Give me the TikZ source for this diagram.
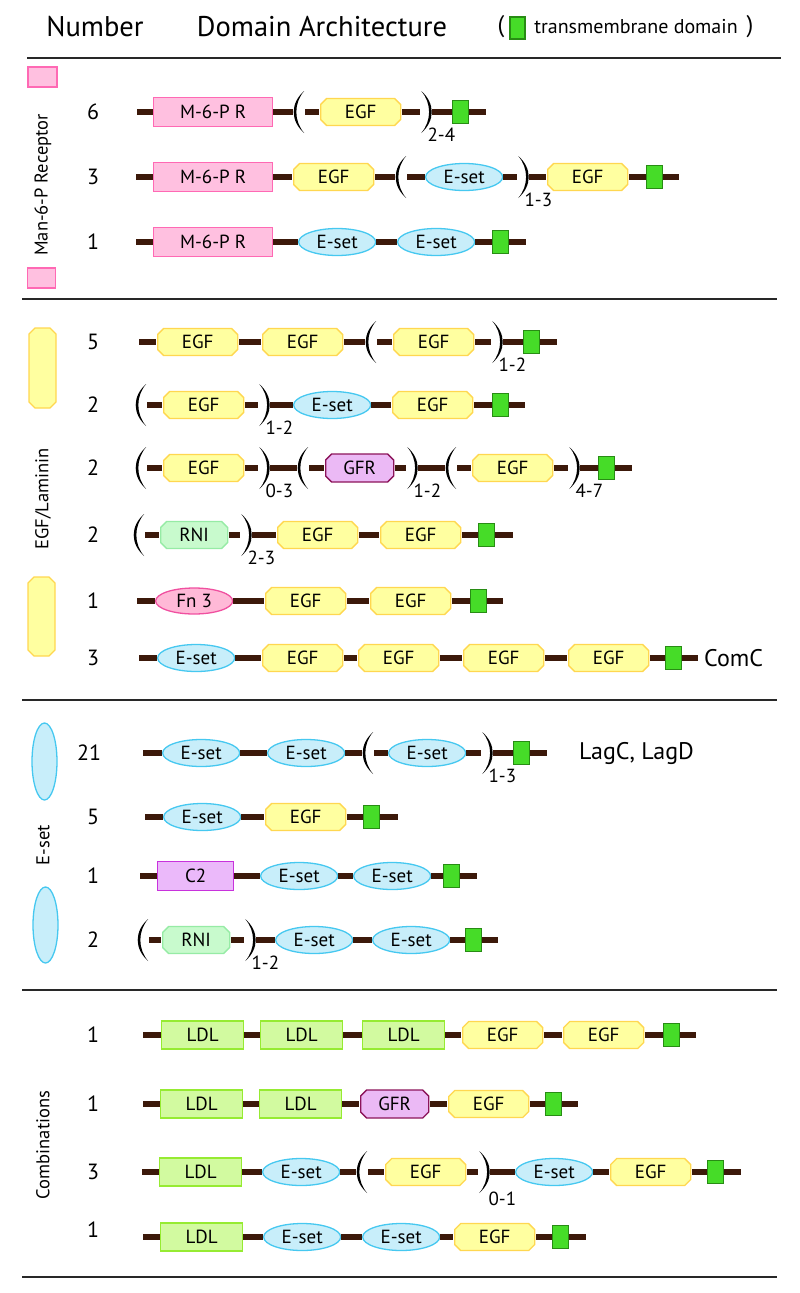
\documentclass[tikz,border=0pt]{standalone}
\usepackage{fontspec}
\setmainfont{PT Sans}
\usetikzlibrary{shapes.geometric}
\definecolor{linkc}{RGB}{60,25,10}
\definecolor{sepc}{RGB}{40,40,40}
\definecolor{mprF}{RGB}{255,192,224}\definecolor{mprD}{RGB}{255,105,180}
\definecolor{egfF}{RGB}{255,255,160}\definecolor{egfD}{RGB}{255,215,80}
\definecolor{esetF}{RGB}{200,238,250}\definecolor{esetD}{RGB}{70,200,240}
\definecolor{gfrF}{RGB}{235,185,245}\definecolor{gfrD}{RGB}{140,20,90}
\definecolor{ctwoF}{RGB}{235,185,250}\definecolor{ctwoD}{RGB}{200,50,220}
\definecolor{rniF}{RGB}{200,250,205}\definecolor{rniD}{RGB}{150,235,165}
\definecolor{fnF}{RGB}{255,185,215}\definecolor{fnD}{RGB}{240,80,160}
\definecolor{ldlF}{RGB}{210,250,160}\definecolor{ldlD}{RGB}{150,235,50}
\definecolor{tmF}{RGB}{70,220,40}\definecolor{tmD}{RGB}{40,140,20}
\newcommand{\lab}{\fontsize{19}{22}\selectfont}
\begin{document}
\begin{tikzpicture}[x=1pt,y=-1pt,
 link/.style={line width=5.5pt, linkc},
 sepline/.style={line width=1.4pt, sepc},
 dom/.style={line width=1.3pt, inner sep=0pt, font=\lab, anchor=west},
 octo/.style 2 args={dom, rectangle, path picture={\filldraw[draw=#1,fill=#2,line width=1.3pt]
   ([xshift=7pt,yshift=-1pt]path picture bounding box.north west) -- ([xshift=-7pt,yshift=-1pt]path picture bounding box.north east)
   -- ([xshift=-1pt,yshift=-7pt]path picture bounding box.north east) -- ([xshift=-1pt,yshift=7pt]path picture bounding box.south east)
   -- ([xshift=-7pt,yshift=1pt]path picture bounding box.south east) -- ([xshift=7pt,yshift=1pt]path picture bounding box.south west)
   -- ([xshift=1pt,yshift=7pt]path picture bounding box.south west) -- ([xshift=1pt,yshift=-7pt]path picture bounding box.north west) -- cycle;}},
 mpr/.style={dom, rectangle, draw=mprD, fill=mprF, minimum width=119pt, minimum height=29pt},
 egf/.style={octo={egfD}{egfF}, minimum width=82pt, minimum height=29pt},
 gfr/.style={octo={gfrD}{gfrF}, minimum width=70pt, minimum height=30pt},
 rni/.style={octo={rniD}{rniF}, minimum width=69pt, minimum height=29pt},
 eset/.style={dom, ellipse, draw=esetD, fill=esetF, minimum width=77pt, minimum height=27pt},
 fn/.style={dom, ellipse, draw=fnD, fill=fnF, minimum width=77pt, minimum height=26pt},
 ctwo/.style={dom, rectangle, draw=ctwoD, fill=ctwoF, minimum width=76pt, minimum height=29pt},
 ldl/.style={dom, rectangle, draw=ldlD, fill=ldlF, minimum width=82pt, minimum height=28pt},
 tm/.style={dom, rectangle, line width=1.2pt, draw=tmD, fill=tmF, minimum width=16pt, minimum height=23pt},
 lpar/.style={anchor=west, minimum width=12pt, minimum height=42pt, inner sep=0pt,
   path picture={\fill[black] ([xshift=-1pt]path picture bounding box.north east)
     .. controls ([xshift=-3pt,yshift=-12pt]path picture bounding box.north west) and ([xshift=-3pt,yshift=12pt]path picture bounding box.south west) .. ([xshift=-1pt]path picture bounding box.south east)
     .. controls ([xshift=0.5pt,yshift=12pt]path picture bounding box.south west) and ([xshift=0.5pt,yshift=-12pt]path picture bounding box.north west) .. cycle;}},
 rpar/.style={anchor=west, minimum width=12pt, minimum height=42pt, inner sep=0pt,
   path picture={\fill[black] ([xshift=1pt]path picture bounding box.north west)
     .. controls ([xshift=3pt,yshift=-12pt]path picture bounding box.north east) and ([xshift=3pt,yshift=12pt]path picture bounding box.south east) .. ([xshift=1pt]path picture bounding box.south west)
     .. controls ([xshift=-0.5pt,yshift=12pt]path picture bounding box.south east) and ([xshift=-0.5pt,yshift=-12pt]path picture bounding box.north east) .. cycle;}},
 sub/.style={font=\lab, anchor=west, inner sep=0pt},
 num/.style={font=\fontsize{22}{24}\selectfont, inner sep=0pt},
 vlab/.style={font=\fontsize{18.5}{20}\selectfont, rotate=90, inner sep=0pt},
 note/.style={font=\fontsize{24}{26}\selectfont, anchor=west, inner sep=0pt}
]
\useasboundingbox (0,0) rectangle (800,1293);
% header
\node[font=\fontsize{28.5}{30}\selectfont] (hnum) at (95,27) {Number};
\node[font=\fontsize{28.5}{30}\selectfont] (hdom) at (322,27) {Domain Architecture};
\node[font=\fontsize{24}{26}\selectfont, inner sep=0pt] (hlp) at (501,27) {(};
\node[tm, anchor=center, minimum width=15pt, minimum height=22pt] (htm) at (517.5,28) {};
\node[font=\fontsize{20}{22}\selectfont, inner sep=0pt] (htxt) at (636,27) {transmembrane domain};
\node[font=\fontsize{24}{26}\selectfont, inner sep=0pt] (hrp) at (750,27) {)};
\draw[sepline] (27,58) -- (781,58);
\draw[sepline] (22,299) -- (777,299);
\draw[sepline] (22,700) -- (777,700);
\draw[sepline] (22,990) -- (777,990);
\draw[sepline] (22,1277) -- (777,1277);

% ===== Section 1: Man-6-P Receptor =====
\node[dom, anchor=center, rectangle, draw=mprD, fill=mprF, minimum width=29pt, minimum height=20pt] (s1a) at (42.5,77) {};
\node[dom, anchor=center, rectangle, draw=mprD, fill=mprF, minimum width=28pt, minimum height=20pt] (s1b) at (41.5,278) {};
\node[vlab] (v1) at (43,185) {Man-6-P Receptor};
\node[num] (n11) at (93,112) {6};
\node[num] (n12) at (93,177) {3};
\node[num] (n13) at (93,242) {1};
% row 6
\coordinate (a0) at (137,112);
\node[mpr] (a1) at (153,112) {M-6-P R};
\node[lpar] (a2) at (293,112) {};
\node[egf] (a3) at (319,112) {EGF};
\node[rpar] (a4) at (420,112) {};
\node[sub] (a4s) at ([xshift=-5pt,yshift=-23pt]a4.east) {2-4};
\node[tm] (a5) at (452,112) {};
\coordinate (a6) at (486,112);
\draw[link] (a0) -- (a1.west) (a1.east) -- (a2.west) (a2.east) -- (a3.west) (a3.east) -- (a4.west) (a4.east) -- (a5.west) (a5.east) -- (a6);
% row 3
\coordinate (b0) at (136,177);
\node[mpr] (b1) at (153,177) {M-6-P R};
\node[egf] (b2) at (292,177) {EGF};
\node[lpar] (b3) at (395,177) {};
\node[eset] (b4) at (425,177) {E-set};
\node[rpar] (b5) at (517,177) {};
\node[sub] (b5s) at ([xshift=-5pt,yshift=-23pt]b5.east) {1-3};
\node[egf] (b6) at (546,177) {EGF};
\node[tm] (b7) at (646,177) {};
\coordinate (b8) at (679,177);
\draw[link] (b0) -- (b1.west) (b1.east) -- (b2.west) (b2.east) -- (b3.west) (b3.east) -- (b4.west) (b4.east) -- (b5.west) (b5.east) -- (b6.west) (b6.east) -- (b7.west) (b7.east) -- (b8);
% row 1
\coordinate (c0) at (136,242);
\node[mpr] (c1) at (153,242) {M-6-P R};
\node[eset] (c2) at (298,242) {E-set};
\node[eset] (c3) at (397,242) {E-set};
\node[tm] (c4) at (492,242) {};
\coordinate (c5) at (526,242);
\draw[link] (c0) -- (c1.west) (c1.east) -- (c2.west) (c2.east) -- (c3.west) (c3.east) -- (c4.west) (c4.east) -- (c5);

% ===== Section 2: EGF/Laminin =====
\node[octo={egfD}{egfF}, anchor=center, minimum width=29pt, minimum height=82pt] (s2a) at (42.5,368) {};
\node[octo={egfD}{egfF}, anchor=center, minimum width=29pt, minimum height=81pt] (s2b) at (41.5,616.5) {};
\node[vlab] (v2) at (43,499) {EGF/Laminin};
\node[num] (n21) at (93,342) {5};
\node[num] (n22) at (93,405) {2};
\node[num] (n23) at (93,468) {2};
\node[num] (n24) at (93,535) {2};
\node[num] (n25) at (93,601) {1};
\node[num] (n26) at (93,658) {3};
% row 5
\coordinate (d0) at (139,342);
\node[egf] (d1) at (156,342) {EGF};
\node[egf] (d2) at (261,342) {EGF};
\node[lpar] (d3) at (365,342) {};
\node[egf] (d4) at (392,342) {EGF};
\node[rpar] (d5) at (491,342) {};
\node[sub] (d5s) at ([xshift=-5pt,yshift=-23pt]d5.east) {1-2};
\node[tm] (d6) at (523,342) {};
\coordinate (d7) at (557,342);
\draw[link] (d0) -- (d1.west) (d1.east) -- (d2.west) (d2.east) -- (d3.west) (d3.east) -- (d4.west) (d4.east) -- (d5.west) (d5.east) -- (d6.west) (d6.east) -- (d7);
% row 2a
\node[lpar] (e1) at (135,405) {};
\node[egf] (e2) at (162,405) {EGF};
\node[rpar] (e3) at (258,405) {};
\node[sub] (e3s) at ([xshift=-5pt,yshift=-23pt]e3.east) {1-2};
\node[eset] (e4) at (293,405) {E-set};
\node[egf] (e5) at (391,405) {EGF};
\node[tm] (e6) at (492,405) {};
\coordinate (e7) at (525,405);
\draw[link] (e1.east) -- (e2.west) (e2.east) -- (e3.west) (e3.east) -- (e4.west) (e4.east) -- (e5.west) (e5.east) -- (e6.west) (e6.east) -- (e7);
% row 2b
\node[lpar] (f1) at (135,468) {};
\node[egf] (f2) at (162,468) {EGF};
\node[rpar] (f3) at (258,468) {};
\node[sub] (f3s) at ([xshift=-5pt,yshift=-23pt]f3.east) {0-3};
\node[lpar] (f4) at (297,468) {};
\node[gfr] (f5) at (324,468) {GFR};
\node[rpar] (f6) at (406,468) {};
\node[sub] (f6s) at ([xshift=-5pt,yshift=-23pt]f6.east) {1-2};
\node[lpar] (f7) at (445,468) {};
\node[egf] (f8) at (471,468) {EGF};
\node[rpar] (f9) at (568,468) {};
\node[sub] (f9s) at ([xshift=-5pt,yshift=-23pt]f9.east) {4-7};
\node[tm] (f10) at (598,468) {};
\coordinate (f11) at (632,468);
\draw[link] (f1.east) -- (f2.west) (f2.east) -- (f3.west) (f3.east) -- (f4.west) (f4.east) -- (f5.west) (f5.east) -- (f6.west) (f6.east) -- (f7.west) (f7.east) -- (f8.west) (f8.east) -- (f9.west) (f9.east) -- (f10.west) (f10.east) -- (f11);
% row 2c
\node[lpar] (g1) at (133,535) {};
\node[rni] (g2) at (159,535) {RNI};
\node[rpar] (g3) at (240,535) {};
\node[sub] (g3s) at ([xshift=-5pt,yshift=-23pt]g3.east) {2-3};
\node[egf] (g4) at (276,535) {EGF};
\node[egf] (g5) at (379,535) {EGF};
\node[tm] (g6) at (478,535) {};
\coordinate (g7) at (513,535);
\draw[link] (g1.east) -- (g2.west) (g2.east) -- (g3.west) (g3.east) -- (g4.west) (g4.east) -- (g5.west) (g5.east) -- (g6.west) (g6.east) -- (g7);
% row 1 Fn3
\coordinate (h0) at (137,601);
\node[fn] (h1) at (155,601) {Fn 3};
\node[egf] (h2) at (264,601) {EGF};
\node[egf] (h3) at (369,601) {EGF};
\node[tm] (h4) at (470,601) {};
\coordinate (h5) at (503,601);
\draw[link] (h0) -- (h1.west) (h1.east) -- (h2.west) (h2.east) -- (h3.west) (h3.east) -- (h4.west) (h4.east) -- (h5);
% row 3 ComC
\coordinate (i0) at (139,658);
\node[eset] (i1) at (157,658) {E-set};
\node[egf] (i2) at (261,658) {EGF};
\node[egf] (i3) at (357,658) {EGF};
\node[egf] (i4) at (462,658) {EGF};
\node[egf] (i5) at (567,658) {EGF};
\node[tm] (i6) at (665,658) {};
\coordinate (i7) at (698,658);
\node[note] (i8) at (704,658) {ComC};
\draw[link] (i0) -- (i1.west) (i1.east) -- (i2.west) (i2.east) -- (i3.west) (i3.east) -- (i4.west) (i4.east) -- (i5.west) (i5.east) -- (i6.west) (i6.east) -- (i7);

% ===== Section 3: E-set =====
\node[dom, anchor=center, ellipse, draw=esetD, fill=esetF, minimum width=25pt, minimum height=77pt] (s3a) at (44.5,761.5) {};
\node[dom, anchor=center, ellipse, draw=esetD, fill=esetF, minimum width=25pt, minimum height=76pt] (s3b) at (45.5,925) {};
\node[vlab] (v3) at (43,845) {E-set};
\node[num] (n31) at (89,753) {21};
\node[num] (n32) at (93,817) {5};
\node[num] (n33) at (93,876) {1};
\node[num] (n34) at (93,940) {2};
% row 21
\coordinate (j0) at (143,753);
\node[eset] (j1) at (162,753) {E-set};
\node[eset] (j2) at (267,753) {E-set};
\node[lpar] (j3) at (362,753) {};
\node[eset] (j4) at (388,753) {E-set};
\node[rpar] (j5) at (481,753) {};
\node[sub] (j5s) at ([xshift=-5pt,yshift=-23pt]j5.east) {1-3};
\node[tm] (j6) at (513,753) {};
\coordinate (j7) at (547,753);
\node[note] (j8) at (579,753) {LagC, LagD};
\draw[link] (j0) -- (j1.west) (j1.east) -- (j2.west) (j2.east) -- (j3.west) (j3.east) -- (j4.west) (j4.east) -- (j5.west) (j5.east) -- (j6.west) (j6.east) -- (j7);
% row 5
\coordinate (k0) at (145,817);
\node[eset] (k1) at (163,817) {E-set};
\node[egf] (k2) at (264,817) {EGF};
\node[tm] (k3) at (363,817) {};
\coordinate (k4) at (398,817);
\draw[link] (k0) -- (k1.west) (k1.east) -- (k2.west) (k2.east) -- (k3.west) (k3.east) -- (k4);
% row 1 C2
\coordinate (l0) at (140,876);
\node[ctwo] (l1) at (157,876) {C2};
\node[eset] (l2) at (260,876) {E-set};
\node[eset] (l3) at (353,876) {E-set};
\node[tm] (l4) at (443,876) {};
\coordinate (l5) at (477,876);
\draw[link] (l0) -- (l1.west) (l1.east) -- (l2.west) (l2.east) -- (l3.west) (l3.east) -- (l4.west) (l4.east) -- (l5);
% row 2 RNI
\node[lpar] (m1) at (137,940) {};
\node[rni] (m2) at (161,940) {RNI};
\node[rpar] (m3) at (244,940) {};
\node[sub] (m3s) at ([xshift=-5pt,yshift=-23pt]m3.east) {1-2};
\node[eset] (m4) at (275,940) {E-set};
\node[eset] (m5) at (372,940) {E-set};
\node[tm] (m6) at (465,940) {};
\coordinate (m7) at (498,940);
\draw[link] (m1.east) -- (m2.west) (m2.east) -- (m3.west) (m3.east) -- (m4.west) (m4.east) -- (m5.west) (m5.east) -- (m6.west) (m6.east) -- (m7);

% ===== Section 4: Combinations =====
\node[vlab] (v4) at (43,1145) {Combinations};
\node[num] (n41) at (93,1035) {1};
\node[num] (n42) at (93,1104) {1};
\node[num] (n43) at (93,1172) {3};
\node[num] (n44) at (93,1230) {1};
% row 1
\coordinate (o0) at (143,1035);
\node[ldl] (o1) at (161,1035) {LDL};
\node[ldl] (o2) at (260,1035) {LDL};
\node[ldl] (o3) at (362,1035) {LDL};
\node[egf] (o4) at (461,1035) {EGF};
\node[egf] (o5) at (562,1035) {EGF};
\node[tm] (o6) at (663,1035) {};
\coordinate (o7) at (696,1035);
\draw[link] (o0) -- (o1.west) (o1.east) -- (o2.west) (o2.east) -- (o3.west) (o3.east) -- (o4.west) (o4.east) -- (o5.west) (o5.east) -- (o6.west) (o6.east) -- (o7);
% row 2
\coordinate (p0) at (143,1104);
\node[ldl] (p1) at (160,1104) {LDL};
\node[ldl] (p2) at (259,1104) {LDL};
\node[gfr] (p3) at (359,1104) {GFR};
\node[egf] (p4) at (447,1104) {EGF};
\node[tm] (p5) at (545,1104) {};
\coordinate (p6) at (578,1104);
\draw[link] (p0) -- (p1.west) (p1.east) -- (p2.west) (p2.east) -- (p3.west) (p3.east) -- (p4.west) (p4.east) -- (p5.west) (p5.east) -- (p6);
% row 3
\coordinate (q0) at (142,1172);
\node[ldl] (q1) at (159,1172) {LDL};
\node[eset] (q2) at (262,1172) {E-set};
\node[lpar] (q3) at (356,1172) {};
\node[egf] (q4) at (384,1172) {EGF};
\node[rpar] (q5) at (478,1172) {};
\node[sub] (q5s) at ([xshift=-2pt,yshift=-27pt]q5.east) {0-1};
\node[eset] (q6) at (515,1172) {E-set};
\node[egf] (q7) at (609,1172) {EGF};
\node[tm] (q8) at (707,1172) {};
\coordinate (q9) at (741,1172);
\draw[link] (q0) -- (q1.west) (q1.east) -- (q2.west) (q2.east) -- (q3.west) (q3.east) -- (q4.west) (q4.east) -- (q5.west) (q5.east) -- (q6.west) (q6.east) -- (q7.west) (q7.east) -- (q8.west) (q8.east) -- (q9);
% row 4
\coordinate (r0) at (143,1237);
\node[ldl] (r1) at (160,1237) {LDL};
\node[eset] (r2) at (263,1237) {E-set};
\node[eset] (r3) at (362,1237) {E-set};
\node[egf] (r4) at (453,1237) {EGF};
\node[tm] (r5) at (552,1237) {};
\coordinate (r6) at (586,1237);
\draw[link] (r0) -- (r1.west) (r1.east) -- (r2.west) (r2.east) -- (r3.west) (r3.east) -- (r4.west) (r4.east) -- (r5.west) (r5.east) -- (r6);
\end{tikzpicture}
\end{document}
